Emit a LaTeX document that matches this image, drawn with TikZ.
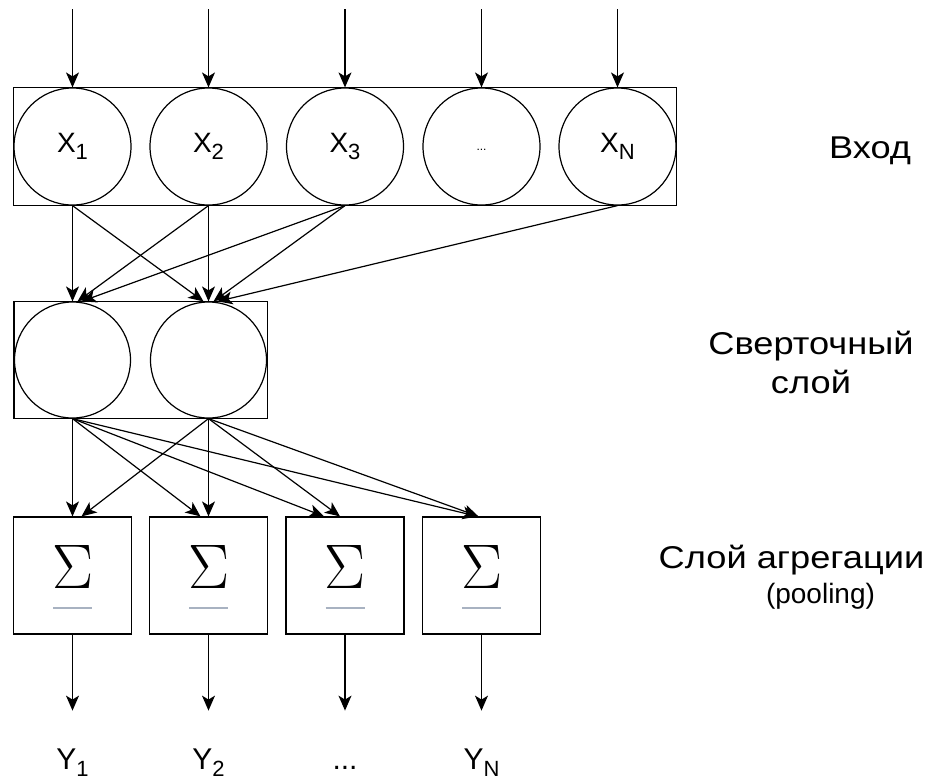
\documentclass[tikz,border=0pt]{standalone}
\usepackage{graphicx}
\usepackage{fontspec}
\setmainfont{Liberation Sans}
\newfontfamily\widesans[FakeStretch=1.15]{Liberation Sans}
\usetikzlibrary{arrows.meta,calc,fit}
\newcommand{\lowidx}[1]{\raisebox{-7pt}{\fontsize{22}{22}\selectfont #1}}
\definecolor{sumline}{RGB}{168,178,193}

\begin{document}
\begin{tikzpicture}[
  x = 1pt, y = -1pt,
  line width = 1.2pt,
  every node/.style = {font = \fontsize{28}{34}\selectfont},
  neuron/.style = {draw, circle, minimum size = 117pt, inner sep = 0pt},
  layerbox/.style = {draw, rectangle, inner sep = 0pt},
  poolbox/.style = {draw, rectangle, minimum width = 118pt, minimum height = 117pt, inner sep = 0pt},
  sigma/.style = {inner sep = 0pt, anchor = base},
  caption/.style = {font = \widesans\fontsize{31.5}{39}\selectfont, align = center, inner sep = 0pt},
  link/.style = {-{Stealth[length = 15pt, width = 13pt, inset = 4pt]}},
  ]
  \useasboundingbox (0,0) rectangle (931,780);

  \node[neuron] (x1) at (72.5,146.5) {X\lowidx{1}};
  \node[neuron] (x2) at (208.5,146.5) {X\lowidx{2}};
  \node[neuron] (x3) at (345,146.5) {X\lowidx{3}};
  \node[neuron, font = \fontsize{12}{12}\selectfont] (x4) at (481.5,146.5) {\raisebox{-8pt}{...}};
  \node[neuron] (x5) at (617.5,146.5) {X\lowidx{N}};
  \node[layerbox, fit = (x1)(x5)] (inlayer) {};

  \node[neuron, minimum size = 116pt] (c1) at (72.5,360) {};
  \node[neuron, minimum size = 116pt] (c2) at (208.5,360) {};
  \node[layerbox, fit = (c1)(c2)] (convlayer) {};

  \node[poolbox] (p1) at (72.5,575.5) {};
  \node[poolbox] (p2) at (208.5,575.5) {};
  \node[poolbox] (p3) at (345,575.5) {};
  \node[poolbox] (p4) at (481.5,575.5) {};

  \foreach \i in {1,...,5} {
    \coordinate (in\i) at ($(x\i.north)+(0,-78)$);
    \draw[link] (in\i) -- (x\i.north);
  }

  \draw[link] (x1.south) -- (c1.north);
  \draw[link] (x1.south) -- ([xshift=-5pt]c2.north);
  \draw[link] (x2.south) -- ([xshift=5pt]c1.north);
  \draw[link] (x2.south) -- (c2.north);
  \draw[link] (x3.south) -- ([xshift=9pt]c1.north);
  \draw[link] (x3.south) -- ([xshift=5pt]c2.north);
  \draw[link] (x5.south) -- ([xshift=9pt]c2.north);

  \draw[link] (c1.south) -- (p1.north);
  \draw[link] (c1.south) -- ([xshift=-8pt]p2.north);
  \draw[link] (c1.south) -- ([xshift=-21pt]p3.north);
  \draw[link] (c1.south) -- ([xshift=-4pt]p4.north);
  \draw[link] (c2.south) -- ([xshift=9pt]p1.north);
  \draw[link] (c2.south) -- (p2.north);
  \draw[link] (c2.south) -- ([xshift=-5pt]p3.north);
  \draw[link] (c2.south) -- ([xshift=-3pt]p4.north);

  \foreach \i in {1,...,4} {
    \node[sigma] (s\i) at ($(p\i.center)+(0,12.5)$) {\resizebox{41pt}{43pt}{$\Sigma$}};
    \draw[sumline, line width = 1.5pt] ($(p\i.center)+(-19.5,32.5)$) -- ($(p\i.center)+(19.5,32.5)$);
    \coordinate (out\i) at ($(p\i.south)+(0,76)$);
    \draw[link] (p\i.south) -- (out\i);
  }

  \node[anchor = base, font = \fontsize{30}{36}\selectfont] (y1) at (72.5,769) {Y\lowidx{1}};
  \node[anchor = base, font = \fontsize{30}{36}\selectfont] (y2) at (208.5,769) {Y\lowidx{2}};
  \node[anchor = base, font = \fontsize{30}{36}\selectfont] (y3) at (345,769) {...};
  \node[anchor = base, font = \fontsize{30}{36}\selectfont] (y4) at (481.5,769) {Y\lowidx{N}};

  \node[caption, anchor = base] (inlbl) at (870,158) {Вход};
  \node[caption] (convlbl) at (811,362) {Сверточный\\слой};
  \node[caption, anchor = base] (poollbl) at (791.5,568) {Слой агрегации};
  \node[caption, anchor = base, font = \fontsize{28}{34}\selectfont] (poolsub) at (820.5,603) {(pooling)};
\end{tikzpicture}
\end{document}
